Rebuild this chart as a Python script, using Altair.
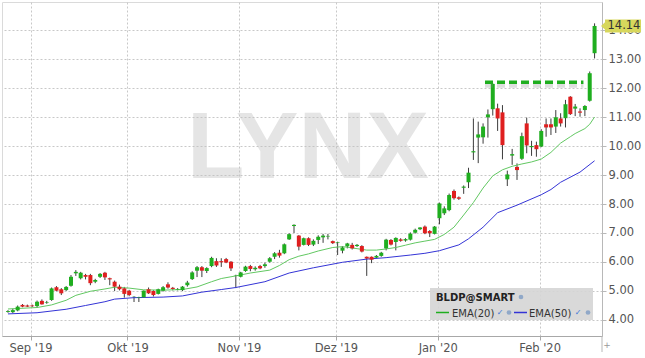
import altair as alt
import pandas as pd

# ---------------- data ----------------
opens = [4.28, 4.27, 4.33, 4.52, 4.50, 4.50, 4.48, 4.66, 4.60, 4.69,
         5.13, 5.06, 5.03, 5.18, 5.61, 5.44, 5.55, 5.55, 5.32, 5.49,
         5.63, 5.44, 5.32, 5.15, 5.09, 5.01, 4.79, 4.77, 4.78, 5.06,
         5.00, 4.90, 5.01, 5.23, 5.11, 5.05, 5.03, 5.20, 5.41, 5.70,
         5.82, 5.69, 5.86, 6.03, 6.03, 6.10, 6.01, 5.52, 5.49, 5.69,
         5.86, 5.75, 5.86, 5.86, 6.01, 6.18, 6.32, 6.30, 6.78, 7.24,
         6.91, 6.59, 6.82, 6.60, 6.76, 6.85, 6.88, 6.72, 6.66, 6.39,
         6.54, 6.59, 6.55, 6.55, 6.18, 6.18, 6.15, 6.21, 6.47, 6.76,
         6.69, 6.78, 6.74, 6.77, 7.01, 7.13, 7.22, 7.07, 6.97, 7.51,
         7.68, 7.79, 8.45, 8.23, 8.56, 8.75, 9.78, 10.29, 10.30, 10.99,
         11.27, 11.30, 11.16, 8.85, 9.67, 9.28, 9.56, 10.78, 9.96, 10.03,
         9.98, 10.75, 10.75, 10.67, 10.95, 10.96, 11.70, 11.29, 11.19, 11.24,
         11.56, 13.20]
highs = [4.34, 4.39, 4.50, 4.55, 4.53, 4.53, 4.67, 4.71, 4.66, 5.12,
         5.17, 5.10, 5.17, 5.55, 5.72, 5.66, 5.59, 5.59, 5.42, 5.62,
         5.66, 5.46, 5.36, 5.22, 5.14, 5.04, 4.82, 4.80, 5.02, 5.12,
         5.03, 5.08, 5.17, 5.30, 5.14, 5.10, 5.17, 5.35, 5.68, 5.86,
         5.86, 5.82, 6.18, 6.13, 6.13, 6.14, 6.03, 5.56, 5.66, 5.87,
         5.90, 5.85, 5.90, 5.98, 6.17, 6.34, 6.42, 6.64, 6.99, 7.30,
         6.93, 6.84, 6.85, 6.78, 6.92, 6.97, 6.97, 6.74, 6.70, 6.55,
         6.66, 6.66, 6.62, 6.58, 6.19, 6.19, 6.24, 6.35, 6.80, 6.79,
         6.85, 6.82, 6.82, 7.02, 7.15, 7.20, 7.26, 7.10, 7.24, 8.05,
         7.92, 8.36, 8.50, 8.26, 8.64, 9.25, 10.95, 10.84, 10.78, 11.26,
         12.16, 11.46, 11.41, 9.15, 9.90, 9.40, 10.46, 10.98, 10.18, 10.15,
         10.58, 10.95, 10.95, 11.24, 11.13, 11.59, 11.72, 11.45, 11.30, 11.41,
         12.57, 14.23]
lows = [4.25, 4.24, 4.30, 4.44, 4.45, 4.45, 4.42, 4.53, 4.56, 4.66,
        4.99, 4.86, 5.00, 5.15, 5.52, 5.40, 5.40, 5.20, 5.27, 5.45,
        5.38, 5.20, 5.00, 5.02, 4.77, 4.82, 4.62, 4.62, 4.76, 4.90,
        4.81, 4.88, 4.98, 5.08, 5.02, 5.02, 5.00, 5.15, 5.38, 5.48,
        5.48, 5.62, 5.82, 5.83, 5.83, 5.96, 5.69, 5.10, 5.47, 5.66,
        5.68, 5.70, 5.75, 5.80, 5.98, 6.10, 6.15, 6.27, 6.76, 7.00,
        6.40, 6.57, 6.55, 6.55, 6.62, 6.66, 6.78, 6.62, 6.24, 6.30,
        6.47, 6.43, 6.52, 6.33, 5.52, 5.96, 6.13, 6.18, 6.40, 6.57,
        6.40, 6.70, 6.70, 6.74, 6.98, 7.10, 6.96, 6.86, 6.95, 7.30,
        7.62, 7.75, 8.15, 8.14, 8.35, 8.55, 9.52, 9.41, 10.08, 10.29,
        11.05, 10.52, 9.54, 8.62, 9.35, 8.83, 9.52, 9.75, 9.66, 9.63,
        9.96, 10.32, 10.38, 10.45, 10.67, 10.64, 11.07, 11.03, 11.01, 11.03,
        11.53, 13.02]
closes = [4.31, 4.34, 4.46, 4.46, 4.46, 4.47, 4.63, 4.54, 4.62, 5.09,
          5.01, 4.92, 5.14, 5.49, 5.66, 5.63, 5.49, 5.27, 5.38, 5.59,
          5.47, 5.40, 5.15, 5.06, 4.90, 4.86, 4.80, 4.79, 5.01, 4.92,
          4.86, 5.06, 5.13, 5.12, 5.07, 5.07, 5.15, 5.29, 5.64, 5.82,
          5.70, 5.79, 6.14, 5.88, 5.99, 5.98, 5.78, 5.53, 5.64, 5.84,
          5.76, 5.80, 5.78, 5.92, 6.13, 6.30, 6.22, 6.61, 6.96, 7.28,
          6.53, 6.82, 6.59, 6.73, 6.87, 6.91, 6.90, 6.65, 6.68, 6.50,
          6.64, 6.47, 6.59, 6.36, 6.12, 6.08, 6.21, 6.32, 6.77, 6.60,
          6.83, 6.73, 6.79, 6.98, 7.11, 7.19, 6.99, 6.99, 7.22, 8.02,
          7.85, 8.31, 8.20, 8.18, 8.60, 9.08, 9.82, 10.40, 10.67, 11.09,
          12.14, 10.95, 10.03, 9.02, 9.72, 9.17, 10.34, 10.02, 10.00, 9.89,
          10.52, 10.64, 10.64, 10.99, 10.78, 11.44, 11.10, 11.36, 11.15, 11.38,
          12.51, 14.14]

ema20_idx = [0, 6, 9, 12, 14, 17, 20, 22, 25, 28,
             32, 36, 39, 42, 44, 47, 50, 54, 56, 58,
             60, 62, 64, 67, 69, 70, 72, 74, 76, 78,
             80, 82, 84, 86, 88, 90, 92, 94, 96, 98,
             100, 102, 104, 106, 108, 110, 112, 114, 116, 117,
             119, 120, 121]
ema20_val = [4.38, 4.43, 4.52, 4.68, 4.85, 4.99, 5.07, 5.13, 5.10, 5.04,
             5.03, 5.05, 5.14, 5.32, 5.43, 5.52, 5.62, 5.72, 5.88, 6.08,
             6.20, 6.28, 6.38, 6.50, 6.53, 6.51, 6.46, 6.41, 6.41, 6.45,
             6.50, 6.58, 6.66, 6.72, 6.78, 6.95, 7.20, 7.62, 8.05, 8.55,
             8.97, 9.18, 9.30, 9.38, 9.45, 9.55, 9.78, 10.10, 10.32, 10.43,
             10.60, 10.75, 11.00]
ema50_idx = [0, 6, 12, 16, 20, 22, 26, 32, 36, 40,
             44, 47, 53, 58, 63, 69, 74, 78, 83, 86,
             89, 93, 95, 98, 101, 105, 110, 112, 114, 118, 121]
ema50_val = [4.21, 4.25, 4.37, 4.50, 4.63, 4.72, 4.77, 4.79, 4.83, 4.96,
             5.05, 5.12, 5.32, 5.62, 5.80, 5.99, 6.10, 6.15, 6.24, 6.30,
             6.39, 6.59, 6.80, 7.20, 7.70, 7.96, 8.32, 8.50, 8.75, 9.10, 9.49]

month_first = [5, 25, 48, 68, 89, 110]
month_labels = ["Sep '19", "Okt '19", "Nov '19", "Dez '19", "Jan '20", "Feb '20"]
y_ticks = [4, 5, 6, 7, 8, 9, 10, 11, 12, 13, 14]

resist_from, resist_to, resist_level = [98.4], [118.7], [12.2]
last_price = [14.14]
symbol = "BLDP@SMART"
ema_names = ["EMA(20)", "EMA(50)"]
watermark = "LYNX"

# ---------------- styling ----------------
GREEN = "#1fae1f"
RED = "#df1f1f"
EMA20_C = "#62c862"
EMA50_C = "#3434d6"
FONT = "DejaVu Sans"

candles = pd.DataFrame({"i": list(range(len(opens))), "open": opens,
                        "high": highs, "low": lows, "close": closes})
candles["dir"] = ["up" if c >= o else "down" for o, c in zip(opens, closes)]

xs = alt.Scale(domain=[-0.2, 121.5], nice=False, zero=False)
ys = alt.Scale(domain=[3.448, 14.966], nice=False, zero=False)

tick_vals = [m - 0.35 for m in month_first]
label_expr = ""
for m, lab in zip(month_first, month_labels):
    label_expr += f'datum.value < {m + 0.5} ? "{lab}" : '
label_expr += '""'

x_axis = alt.Axis(values=tick_vals, labelExpr=label_expr, title=None, grid=True,
                  tickSize=4, labelPadding=2, labelFlush=False, zindex=0,
                  domainColor="#a8a8a8", tickColor="#a8a8a8")
y_axis = alt.Axis(orient="right", values=y_ticks, format=".2f", title=None, grid=True,
                  tickSize=4, labelPadding=2, zindex=0,
                  domainColor="#b8b8b8", tickColor="#b8b8b8")


def X(field):
    return alt.X(field, scale=xs, axis=x_axis)


def Y(field):
    return alt.Y(field, scale=ys, axis=y_axis)


one = pd.DataFrame({"a": [0]})


def deco_text(txt, px, py, **kw):
    return alt.Chart(pd.DataFrame({"t": [txt]})).mark_text(**kw).encode(
        text="t:N", x=alt.value(px), y=alt.value(py))


def deco_dot(px, py):
    return alt.Chart(one).mark_point(filled=True, size=22, color="#90a8c8", opacity=1).encode(
        x=alt.value(px), y=alt.value(py))


wm = deco_text(watermark, 306, 148, font="Liberation Sans", fontWeight="bold", fontSize=94,
               color="#c2c2c2", opacity=0.42, align="center", baseline="middle")

wick = alt.Chart(candles).mark_rule(color="#3c3c3c", strokeWidth=1, clip=True).encode(
    x=X("i:Q"), y=Y("low:Q"), y2="high:Q")

body = alt.Chart(candles).mark_bar(size=4, clip=True).encode(
    x=X("i:Q"), y=Y("open:Q"), y2="close:Q",
    color=alt.Color("dir:N", scale=alt.Scale(domain=["up", "down"], range=[GREEN, RED]), legend=None),
)

ema20 = alt.Chart(pd.DataFrame({"i": ema20_idx, "v": ema20_val})).mark_line(
    color=EMA20_C, strokeWidth=1, clip=True).encode(x=X("i:Q"), y=Y("v:Q"))
ema50 = alt.Chart(pd.DataFrame({"i": ema50_idx, "v": ema50_val})).mark_line(
    color=EMA50_C, strokeWidth=1, clip=True).encode(x=X("i:Q"), y=Y("v:Q"))

res_df = pd.DataFrame({"x1": resist_from, "x2": resist_to, "y": resist_level})
res_shadow = alt.Chart(res_df).mark_rule(color="#8a8a8a", strokeWidth=5, opacity=0.28,
                                         yOffset=3, strokeDash=[8, 4]).encode(
    x=X("x1:Q"), x2="x2:Q", y=Y("y:Q"))
res = alt.Chart(res_df).mark_rule(color="#1fae1f", strokeWidth=3.5, strokeDash=[8, 4]).encode(
    x=X("x1:Q"), x2="x2:Q", y=Y("y:Q"))

# legend box
leg_box = alt.Chart(one).mark_rect(fill="#d5d5d5", opacity=0.9).encode(
    x=alt.value(428), x2=alt.value(591), y=alt.value(286), y2=alt.value(318))
leg_title = deco_text(symbol, 434, 298.5, font=FONT, fontWeight="bold", fontSize=10,
                      color="#222222", align="left", baseline="alphabetic")
leg_line20 = alt.Chart(one).mark_rule(color=GREEN, strokeWidth=1.5).encode(
    x=alt.value(434), x2=alt.value(447), y=alt.value(310.5))
leg_line50 = alt.Chart(one).mark_rule(color=EMA50_C, strokeWidth=1.5).encode(
    x=alt.value(512), x2=alt.value(525), y=alt.value(310.5))
leg_n20 = deco_text(ema_names[0], 450, 314.5, font=FONT, fontSize=10, color="#333333",
                    align="left", baseline="alphabetic")
leg_n50 = deco_text(ema_names[1], 527, 314.5, font=FONT, fontSize=10, color="#333333",
                    align="left", baseline="alphabetic")
leg_c20 = deco_text("✓", 498, 311, font=FONT, fontSize=8, color="#3a78d8",
                    align="center", baseline="middle")
leg_c50 = deco_text("✓", 576, 311, font=FONT, fontSize=8, color="#3a78d8",
                    align="center", baseline="middle")
dots = [deco_dot(519, 295), deco_dot(507, 310.5), deco_dot(586, 310.5)]

# last price tag
TAG = "M-1.222,0 L-1,-0.2 L-1,-0.361 L1,-0.361 L1,0.361 L-1,0.361 L-1,0.2 Z"
tag_df = pd.DataFrame({"p": last_price, "t": [f"{v:.2f}" for v in last_price]})
tag = alt.Chart(tag_df).mark_point(shape=TAG, filled=True, fill="#d7d75c", opacity=1,
                                   size=1296, strokeWidth=0).encode(
    x=alt.value(621), y=Y("p:Q"))
tag_text = alt.Chart(tag_df).mark_text(font=FONT, fontSize=11.5, color="#333333",
                                       align="left", baseline="middle").encode(
    x=alt.value(605.5), y=Y("p:Q"), text="t:N")

corner = alt.Chart(one).mark_rule(color="#b8b8b8", strokeWidth=1).encode(
    x=alt.value(600), y=alt.value(334), y2=alt.value(350))
plus = deco_text("+", 605, 343, font=FONT, fontSize=9, color="#999999")

chart = alt.layer(
    wm, wick, ema20, ema50, body, res_shadow, res,
    leg_box, leg_title, leg_line20, leg_line50, leg_n20, leg_n50, leg_c20, leg_c50, *dots,
    tag, tag_text, corner, plus
).properties(
    width=600, height=334,
    padding={"left": 2, "top": 2, "right": 43, "bottom": 22},
    autosize=alt.AutoSizeParams(type="none"),
).configure(background="white").configure_view(
    stroke="#dadada", fill="white"
).configure_axis(
    labelFont=FONT, labelFontSize=11.5, labelColor="#555555",
    gridColor="#c8c8c8", gridDash=[2, 2], gridWidth=1,
)

chart.save("out.html", embed_options={"renderer": "svg", "actions": False})
